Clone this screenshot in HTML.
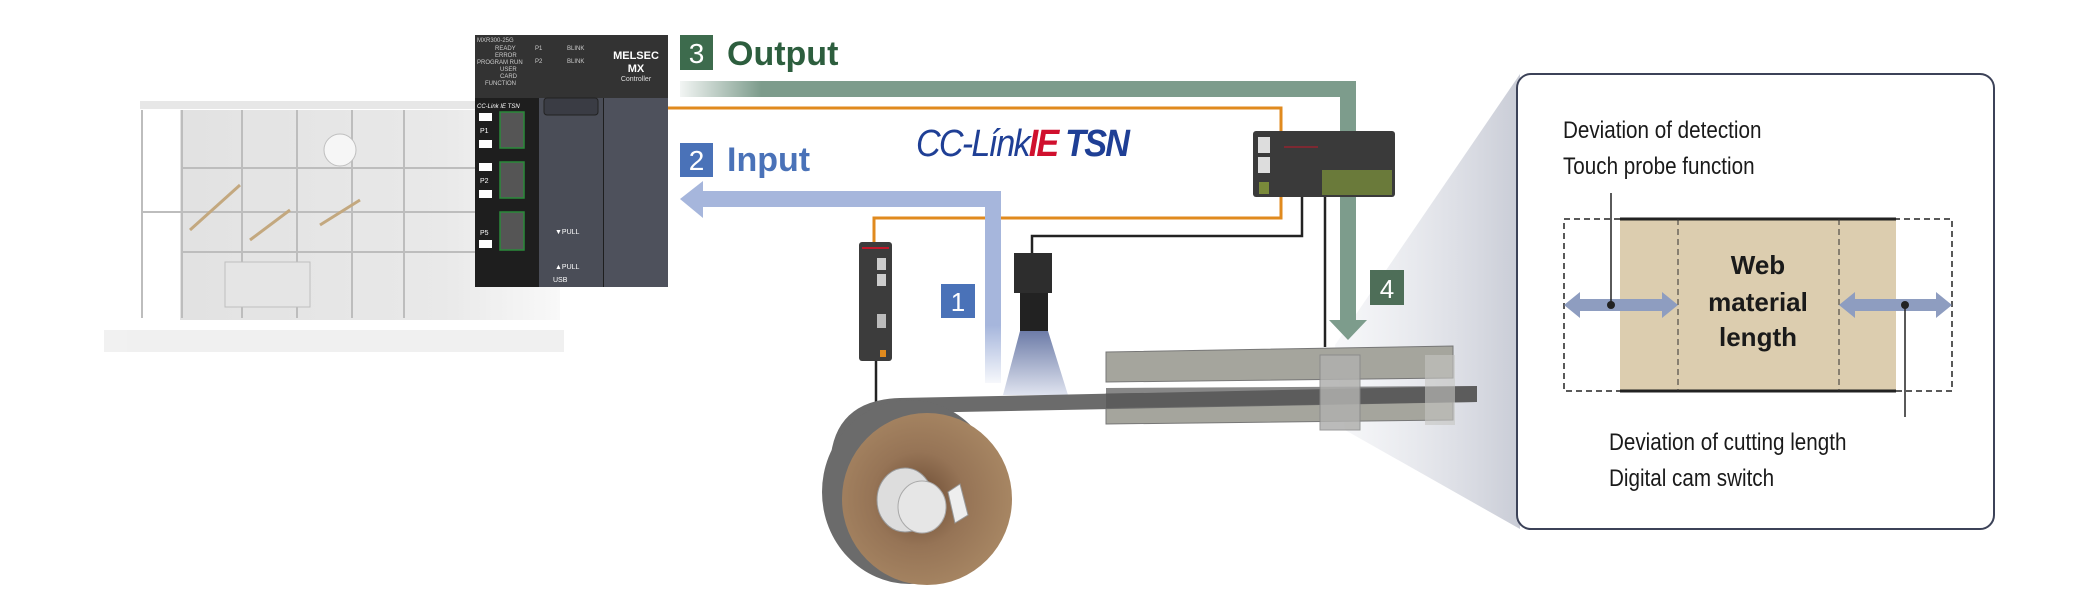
<!DOCTYPE html>
<html><head><meta charset="utf-8"><style>
html,body{margin:0;padding:0;background:#fff;}
svg{display:block;}
text{font-family:"Liberation Sans",sans-serif;}
</style></head><body>
<svg width="2100" height="601" viewBox="0 0 2100 601" xmlns="http://www.w3.org/2000/svg">
<defs>
<linearGradient id="gOut" x1="0" x2="1" y1="0" y2="0">
<stop offset="0" stop-color="#7d9c8c" stop-opacity="0.1"/><stop offset="0.12" stop-color="#7d9c8c"/><stop offset="1" stop-color="#7d9c8c"/></linearGradient>
<linearGradient id="gIn" x1="0" x2="0" y1="0" y2="1">
<stop offset="0.7" stop-color="#a6b6dc"/><stop offset="1" stop-color="#a6b6dc" stop-opacity="0.1"/></linearGradient>
<linearGradient id="gCone" x1="0" x2="1" y1="0" y2="0">
<stop offset="0" stop-color="#e4e6ec" stop-opacity="0.3"/><stop offset="1" stop-color="#c9ccd6"/></linearGradient>
<linearGradient id="gLight" x1="0" x2="0" y1="0" y2="1">
<stop offset="0" stop-color="#6d7ca8"/><stop offset="1" stop-color="#dfe3ef"/></linearGradient>
<radialGradient id="gRoll" cx="0.45" cy="0.5" r="0.55">
<stop offset="0" stop-color="#6a4a32"/><stop offset="0.5" stop-color="#967456"/><stop offset="1" stop-color="#a78663"/></radialGradient>
<linearGradient id="gMach" x1="0" x2="1" y1="0" y2="0">
<stop offset="0" stop-color="#bfbfbf"/><stop offset="0.7" stop-color="#cfcfcf"/><stop offset="1" stop-color="#f2f2f2"/></linearGradient>
</defs>

<!-- machine (faded) -->
<g opacity="0.75">
<rect x="104" y="330" width="460" height="22" fill="#ececec"/>
<rect x="140" y="101" width="420" height="8" fill="#e0e0e0"/>
<rect x="180" y="110" width="380" height="210" fill="url(#gMach)" opacity="0.6"/>
<g stroke="#a8a8a8" stroke-width="2">
<line x1="142" y1="110" x2="142" y2="318"/><line x1="182" y1="110" x2="182" y2="318"/>
<line x1="242" y1="110" x2="242" y2="318"/><line x1="297" y1="110" x2="297" y2="318"/>
<line x1="352" y1="110" x2="352" y2="318"/><line x1="404" y1="110" x2="404" y2="318"/>
<line x1="182" y1="168" x2="560" y2="168"/><line x1="142" y1="212" x2="560" y2="212"/><line x1="182" y1="252" x2="560" y2="252"/>
</g>
<rect x="225" y="262" width="85" height="45" fill="#ddd" stroke="#aaa"/>
<circle cx="340" cy="150" r="16" fill="#f4f4f4" stroke="#aaa"/>
<g stroke="#b08c55" stroke-width="3"><line x1="190" y1="230" x2="240" y2="185"/><line x1="250" y1="240" x2="290" y2="210"/><line x1="320" y1="225" x2="360" y2="200"/></g>
</g>

<!-- gray zoom cone -->
<polygon points="1335,345 1520,74 1520,529 1345,430" fill="url(#gCone)"/>

<!-- output bar -->
<rect x="680" y="81" width="676" height="16" fill="url(#gOut)"/>
<rect x="1340" y="81" width="16" height="242" fill="#7d9c8c"/>
<polygon points="1329,320 1367,320 1348,340" fill="#7d9c8c"/>

<!-- orange lines -->
<polyline points="668,108 1281,108 1281,218 874,218 874,242" fill="none" stroke="#e08a1e" stroke-width="3"/>
<!-- black lines -->
<polyline points="1302,196 1302,236 1032,236 1032,253" fill="none" stroke="#222" stroke-width="2.5"/>
<line x1="1325" y1="196" x2="1325" y2="347" stroke="#222" stroke-width="2.5"/>
<line x1="876" y1="360" x2="876" y2="404" stroke="#222" stroke-width="2.5"/>

<!-- input arrow -->
<rect x="700" y="191" width="301" height="16" fill="#a6b6dc"/>
<rect x="985" y="191" width="16" height="192" fill="url(#gIn)"/>
<polygon points="680,199 703,181 703,218" fill="#a6b6dc"/>

<!-- controller -->
<rect x="475" y="35" width="193" height="252" fill="#1e1e1e"/>
<rect x="475" y="35" width="193" height="63" fill="#333"/>
<rect x="539" y="98" width="64" height="189" fill="#4a4d57"/>
<rect x="604" y="98" width="64" height="189" fill="#4e515c"/>
<rect x="544" y="98" width="54" height="17" rx="3" fill="#3a3c44" stroke="#222"/>
<text x="636" y="59" fill="#fff" font-size="11" font-weight="bold" text-anchor="middle">MELSEC</text>
<text x="636" y="72" fill="#fff" font-size="11" font-weight="bold" text-anchor="middle">MX</text>
<text x="636" y="81" fill="#ddd" font-size="7" text-anchor="middle">Controller</text>
<g fill="#ccc" font-size="6"><text x="477" y="42">MXR300-25G</text><text x="495" y="50">READY</text><text x="495" y="57">ERROR</text><text x="477" y="64">PROGRAM RUN</text><text x="500" y="71">USER</text><text x="500" y="78">CARD</text><text x="485" y="85">FUNCTION</text><text x="535" y="50">P1</text><text x="567" y="50">BLINK</text><text x="535" y="63">P2</text><text x="567" y="63">BLINK</text></g>
<text x="477" y="108" fill="#fff" font-size="6" font-style="italic">CC-Link IE TSN</text>
<g fill="#555" stroke="#2a8a3a" stroke-width="1.5"><rect x="500" y="112" width="24" height="36"/><rect x="500" y="162" width="24" height="36"/><rect x="500" y="212" width="24" height="38"/></g>
<g fill="#fff"><rect x="479" y="113" width="13" height="8"/><rect x="479" y="140" width="13" height="8"/><rect x="479" y="163" width="13" height="8"/><rect x="479" y="190" width="13" height="8"/><rect x="479" y="240" width="13" height="8"/></g>
<g fill="#fff" font-size="7"><text x="480" y="133">P1</text><text x="480" y="183">P2</text><text x="480" y="235">P5</text><text x="555" y="269">▲PULL</text><text x="555" y="234">▼PULL</text><text x="553" y="282">USB</text></g>

<!-- labels -->
<rect x="680" y="35" width="33" height="35" fill="#3d6b4d"/>
<text x="696.5" y="63" fill="#fff" font-size="28" text-anchor="middle">3</text>
<text x="727" y="65" fill="#2d5e3e" font-size="34" font-weight="bold">Output</text>
<rect x="680" y="143" width="33" height="34" fill="#4a72b8"/>
<text x="696.5" y="170" fill="#fff" font-size="28" text-anchor="middle">2</text>
<text x="727" y="171" fill="#4a72b8" font-size="34" font-weight="bold">Input</text>
<text x="916" y="156" font-size="38" font-style="italic" fill="#1f3f95" letter-spacing="-2" transform="translate(916 0) scale(0.9 1) translate(-916 0)">CC-Línk<tspan fill="#d0102e" font-weight="bold">IE</tspan><tspan font-weight="bold"> TSN</tspan></text>
<rect x="941" y="284" width="34" height="34" fill="#4a72b8"/>
<text x="958" y="311" fill="#fff" font-size="26" text-anchor="middle">1</text>
<rect x="1370" y="270" width="34" height="35" fill="#4e6e58"/>
<text x="1387" y="298" fill="#fff" font-size="26" text-anchor="middle">4</text>

<!-- sensor amp -->
<rect x="859" y="242" width="33" height="119" rx="3" fill="#3c3c3c"/>
<line x1="862" y1="248" x2="889" y2="248" stroke="#c0182a" stroke-width="2"/>
<rect x="877" y="258" width="9" height="12" fill="#ccc"/><rect x="877" y="274" width="9" height="12" fill="#ccc"/><rect x="877" y="314" width="9" height="14" fill="#bbb"/><rect x="880" y="350" width="6" height="7" fill="#e08a1e"/>

<!-- remote IO -->
<rect x="1253" y="131" width="142" height="66" rx="3" fill="#3a3a3a"/>
<rect x="1258" y="137" width="12" height="16" fill="#ddd"/><rect x="1258" y="157" width="12" height="16" fill="#ddd"/>
<line x1="1284" y1="147" x2="1318" y2="147" stroke="#c0182a"/>
<rect x="1322" y="170" width="70" height="25" fill="#6a7a3a"/><rect x="1259" y="182" width="10" height="12" fill="#7a8a3a"/>

<!-- camera -->
<polygon points="1020,331 1048,331 1068,395 1003,395" fill="url(#gLight)"/>
<rect x="1014" y="253" width="38" height="40" fill="#2d2d2d"/>
<rect x="1020" y="293" width="28" height="38" fill="#222"/>

<!-- rails -->
<polygon points="1106,352 1453,346 1453,378 1106,382" fill="#a5a59d" stroke="#777"/>
<polygon points="1106,394 1453,390 1453,420 1106,424" fill="#a5a59d" stroke="#777"/>
<!-- web belt -->
<path d="M830,470 Q830,400 900,398 L1477,386 L1477,402 L905,413 Q850,420 845,470 Z" fill="#6b6b6b"/>
<polygon points="1106,388 1477,386 1477,402 1106,408" fill="#555" opacity="0.7"/>
<rect x="1320" y="355" width="40" height="75" fill="#b0b0ae" opacity="0.85" stroke="#888"/>
<rect x="1425" y="355" width="30" height="70" fill="#c4c4c2" opacity="0.6"/>
<!-- roll -->
<ellipse cx="910" cy="492" rx="88" ry="92" fill="#6b6b6b"/>
<ellipse cx="927" cy="499" rx="85" ry="86" fill="url(#gRoll)"/>
<ellipse cx="905" cy="500" rx="28" ry="32" fill="#ddd" stroke="#999"/>
<ellipse cx="922" cy="507" rx="24" ry="26" fill="#e6e6e6" stroke="#aaa"/>
<polygon points="948,492 960,484 968,515 955,523" fill="#eee" stroke="#999"/>

<!-- detail box -->
<rect x="1517" y="74" width="477" height="455" rx="14" fill="#fff" stroke="#3c4258" stroke-width="2"/>
<g font-size="24" fill="#1a1a1a" transform="translate(1563 0) scale(0.86 1) translate(-1563 0)">
<text x="1563" y="138">Deviation of detection</text>
<text x="1563" y="174">Touch probe function</text>
</g>
<g font-size="24" fill="#1a1a1a" transform="translate(1609 0) scale(0.86 1) translate(-1609 0)">
<text x="1609" y="450">Deviation of cutting length</text>
<text x="1609" y="486">Digital cam switch</text>
</g>
<rect x="1620" y="219" width="276" height="172" fill="#dccdaf"/>
<rect x="1564" y="219" width="388" height="172" fill="none" stroke="#222" stroke-width="1.5" stroke-dasharray="6,4"/>
<line x1="1620" y1="219" x2="1896" y2="219" stroke="#222" stroke-width="3"/>
<line x1="1620" y1="391" x2="1896" y2="391" stroke="#222" stroke-width="3"/>
<line x1="1678" y1="219" x2="1678" y2="391" stroke="#333" stroke-width="1" stroke-dasharray="6,4"/>
<line x1="1839" y1="219" x2="1839" y2="391" stroke="#333" stroke-width="1" stroke-dasharray="6,4"/>
<g font-size="26" font-weight="bold" fill="#1a1a1a" text-anchor="middle">
<text x="1758" y="274">Web</text><text x="1758" y="311">material</text><text x="1758" y="346">length</text></g>
<g fill="#8e9dc0">
<polygon points="1564,305 1580,292 1580,299 1662,299 1662,292 1678,305 1662,318 1662,311 1580,311 1580,318"/>
<polygon points="1839,305 1855,292 1855,299 1936,299 1936,292 1952,305 1936,318 1936,311 1855,311 1855,318"/>
</g>
<line x1="1611" y1="193" x2="1611" y2="305" stroke="#222" stroke-width="1.5"/>
<line x1="1905" y1="305" x2="1905" y2="417" stroke="#222" stroke-width="1.5"/>
<circle cx="1611" cy="305" r="4" fill="#222"/><circle cx="1905" cy="305" r="4" fill="#222"/>
</svg>
</body></html>
